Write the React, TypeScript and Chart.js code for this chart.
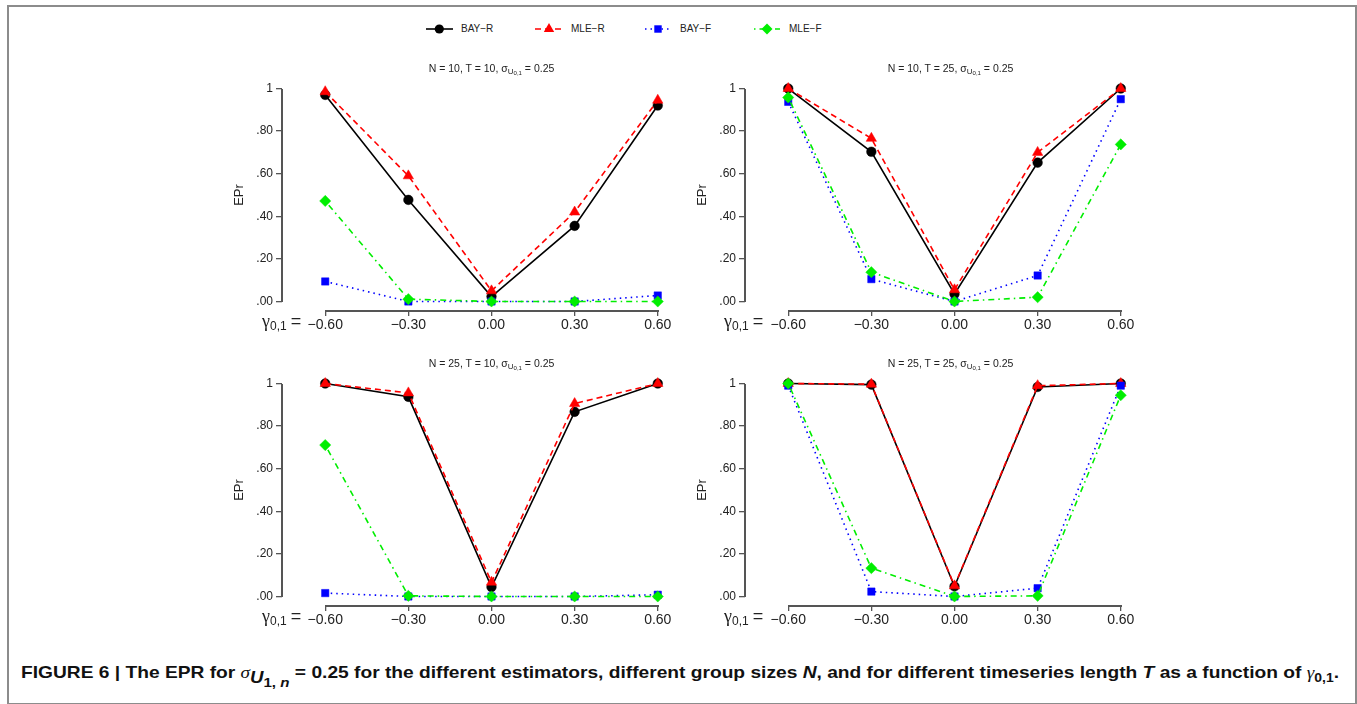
import React, { useEffect, useRef } from 'react';
import { Chart, registerables } from 'chart.js';

Chart.register(...registerables);

// ---------- data ----------
const gammaValues = [-0.6, -0.3, 0, 0.3, 0.6];
const xTickLabels = ['\u22120.60', '\u22120.30', '0.00', '0.30', '0.60'];
const yTickValues = [0, 0.2, 0.4, 0.6, 0.8, 1];
const yTickLabels = ['.00', '.20', '.40', '.60', '.80', '1'];
const seriesNames = ['BAY\u2212R', 'MLE\u2212R', 'BAY\u2212F', 'MLE\u2212F'];

// N = 10, T = 10
const bayR_N10T10 = [0.97, 0.477, 0.023, 0.355, 0.92];
const mleR_N10T10 = [0.985, 0.59, 0.05, 0.42, 0.945];
const bayF_N10T10 = [0.094, 0.0, 0.0, 0.0, 0.028];
const mleF_N10T10 = [0.472, 0.011, 0.0, 0.0, 0.0];

// N = 10, T = 25
const bayR_N10T25 = [1.0, 0.703, 0.035, 0.652, 1.0];
const mleR_N10T25 = [1.0, 0.766, 0.055, 0.7, 1.0];
const bayF_N10T25 = [0.9375, 0.105, 0.0, 0.122, 0.95];
const mleF_N10T25 = [0.958, 0.1375, 0.0, 0.02, 0.7375];

// N = 25, T = 10
const bayR_N25T10 = [1.0, 0.9375, 0.044, 0.867, 1.0];
const mleR_N25T10 = [1.0, 0.956, 0.067, 0.906, 1.0];
const bayF_N25T10 = [0.016, 0.0, 0.0, 0.0, 0.008];
const mleF_N25T10 = [0.711, 0.003, 0.0, 0.0, 0.0];

// N = 25, T = 25
const bayR_N25T25 = [1.0, 0.995, 0.047, 0.984, 1.0];
const mleR_N25T25 = [1.0, 0.997, 0.05, 0.99, 1.0];
const bayF_N25T25 = [0.99, 0.023, 0.0, 0.039, 0.99];
const mleF_N25T25 = [1.0, 0.133, 0.0, 0.003, 0.945];

const panelN = ['10', '10', '25', '25'];
const panelT = ['10', '25', '10', '25'];
const panelSigma = ['0.25', '0.25', '0.25', '0.25'];

// ---------- scale ranges (R style: xlim ±0.7, ylim 0..1, 4% extension) ----------
const X_MIN = -0.756;
const X_MAX = 0.756;
const Y_MIN = -0.04;
const Y_MAX = 1.04;

// ---------- styles ----------
const SANS = '"Liberation Sans", Arial, Helvetica, sans-serif';
const AXIS_COLOR = '#555555';
const TEXT_COLOR = '#222';

const seriesStyles = [
  { color: '#000000', dash: [] as number[], point: 'circle', radius: 4.8 },
  { color: '#ff0000', dash: [6, 4], point: 'triangle', radius: 6 },
  { color: '#0000ff', dash: [1.5, 4], point: 'rect', radius: 5.2 },
  { color: '#00ee00', dash: [1.5, 4, 6, 4], point: 'rectRot', radius: 5.6 },
];

type Area = { L: number; T: number; R: number; B: number };

const panelAreas: Area[] = [
  { L: 282, T: 80, R: 701, B: 310 },
  { L: 745, T: 80, R: 1164, B: 310 },
  { L: 282, T: 375, R: 701, B: 605 },
  { L: 745, T: 375, R: 1164, B: 605 },
];

const panelSeries = [
  [bayR_N10T10, mleR_N10T10, bayF_N10T10, mleF_N10T10],
  [bayR_N10T25, mleR_N10T25, bayF_N10T25, mleF_N10T25],
  [bayR_N25T10, mleR_N25T10, bayF_N25T10, mleF_N25T10],
  [bayR_N25T25, mleR_N25T25, bayF_N25T25, mleF_N25T25],
];

const PADL = 62;
const PADT = 20;
const PADR = 10;
const PADB = 28;

function PanelChart({ series, area }: { series: number[][]; area: Area }) {
  const ref = useRef<HTMLCanvasElement>(null);
  const yAxisRef = useRef<HTMLDivElement>(null);
  const xAxisRef = useRef<HTMLDivElement>(null);
  const w = area.R - area.L + PADL + PADR;
  const h = area.B - area.T + PADT + PADB;
  const canvasLeft = area.L - PADL;
  const canvasTop = area.T - PADT;
  useEffect(() => {
    if (!ref.current) return;
    const chart = new Chart(ref.current, {
      type: 'line',
      data: {
        datasets: series.map((s, i) => ({
          label: seriesNames[i],
          data: gammaValues.map((g, j) => ({ x: g, y: s[j] })),
          borderColor: seriesStyles[i].color,
          backgroundColor: seriesStyles[i].color,
          pointBackgroundColor: seriesStyles[i].color,
          pointBorderColor: seriesStyles[i].color,
          borderWidth: 1.6,
          borderDash: seriesStyles[i].dash,
          pointStyle: seriesStyles[i].point as any,
          pointRadius: seriesStyles[i].radius,
          pointBorderWidth: 0.5,
          tension: 0,
          fill: false,
          order: 4 - i,
          clip: false as any,
        })),
      },
      options: {
        animation: false,
        responsive: false,
        events: [],
        layout: { padding: { left: 0, top: PADT, right: PADR, bottom: 0 } },
        plugins: {
          legend: { display: false },
          tooltip: { enabled: false },
          title: { display: false },
        },
        scales: {
          x: {
            type: 'linear',
            min: X_MIN,
            max: X_MAX,
            afterBuildTicks: (s: any) => {
              s.ticks = gammaValues.map((v) => ({ value: v }));
            },
            afterFit: (s: any) => {
              s.height = PADB;
            },
            border: { display: false },
            grid: {
              display: true,
              drawOnChartArea: false,
              drawTicks: true,
              tickLength: 6,
              color: AXIS_COLOR,
              lineWidth: 1.3,
            },
            ticks: {
              autoSkip: false,
              maxRotation: 0,
              minRotation: 0,
              padding: 1,
              color: TEXT_COLOR,
              font: { family: SANS, size: 14 },
              callback: (_v: any, i: number) => xTickLabels[i],
            },
          },
          y: {
            type: 'linear',
            min: Y_MIN,
            max: Y_MAX,
            afterBuildTicks: (s: any) => {
              s.ticks = yTickValues.map((v) => ({ value: v }));
            },
            afterFit: (s: any) => {
              s.width = PADL;
            },
            border: { display: false },
            grid: {
              display: true,
              drawOnChartArea: false,
              drawTicks: true,
              tickLength: 6,
              color: AXIS_COLOR,
              lineWidth: 1.3,
            },
            ticks: {
              autoSkip: false,
              padding: 3,
              color: TEXT_COLOR,
              font: { family: SANS, size: 12 },
              callback: (_v: any, i: number) => yTickLabels[i],
            },
          },
        },
      } as any,
    });
    // R-style axis lines placed from the chart's own scales
    const ca = chart.chartArea;
    const xs: any = chart.scales.x;
    const ys: any = chart.scales.y;
    if (yAxisRef.current && ca && xs && ys) {
      const yTop = ys.getPixelForValue(yTickValues[yTickValues.length - 1]);
      const yBot = ys.getPixelForValue(yTickValues[0]);
      const st = yAxisRef.current.style;
      st.left = `${canvasLeft + Math.round(ca.left) - 1}px`;
      st.top = `${canvasTop + Math.round(yTop) - 0.5}px`;
      st.height = `${Math.round(yBot) - Math.round(yTop) + 1}px`;
      st.display = 'block';
    }
    if (xAxisRef.current && ca && xs && ys) {
      const xL = xs.getPixelForValue(gammaValues[0]);
      const xR = xs.getPixelForValue(gammaValues[gammaValues.length - 1]);
      const st = xAxisRef.current.style;
      st.left = `${canvasLeft + Math.round(xL) - 0.5}px`;
      st.top = `${canvasTop + Math.round(ca.bottom)}px`;
      st.width = `${Math.round(xR) - Math.round(xL) + 1}px`;
      st.display = 'block';
    }
    return () => chart.destroy();
  }, []);
  return (
    <>
      <canvas
        ref={ref}
        width={w}
        height={h}
        style={{ position: 'absolute', left: canvasLeft, top: canvasTop, width: w, height: h }}
      />
      <div
        ref={yAxisRef}
        style={{ position: 'absolute', width: 1.5, background: AXIS_COLOR, display: 'none' }}
      />
      <div
        ref={xAxisRef}
        style={{ position: 'absolute', height: 1.5, background: AXIS_COLOR, display: 'none' }}
      />
    </>
  );
}

function PanelLabels({ area, idx }: { area: Area; idx: number }) {
  const cx = (area.L + area.R) / 2;
  const yMid = (area.T + area.B) / 2;
  return (
    <>
      <div
        style={{
          position: 'absolute',
          left: cx - 150 + (idx % 2 === 1 ? -4 : 0),
          width: 300,
          top: area.T - 18,
          textAlign: 'center',
          font: `10.5px ${SANS}`,
          color: TEXT_COLOR,
          whiteSpace: 'nowrap',
        }}
      >
        N = {panelN[idx]}, T = {panelT[idx]}, σ
        <sub style={{ fontSize: 8, verticalAlign: -2 }}>
          U<sub style={{ fontSize: 6, verticalAlign: -1 }}>0,1</sub>
        </sub>{' '}
        = {panelSigma[idx]}
      </div>
      <div
        style={{
          position: 'absolute',
          left: area.L - 44,
          top: yMid,
          transform: 'translate(-50%, -50%) rotate(-90deg)',
          font: `13px ${SANS}`,
          color: TEXT_COLOR,
          whiteSpace: 'nowrap',
        }}
      >
        EPr
      </div>
      <div
        style={{
          position: 'absolute',
          left: area.L - 20 - (idx % 2 === 1 ? 1 : 0),
          top: area.B + 1,
          color: TEXT_COLOR,
          whiteSpace: 'nowrap',
          lineHeight: '20px',
        }}
      >
        <span style={{ font: `18px "Liberation Serif", "DejaVu Serif", serif` }}>γ</span>
        <span style={{ font: `12px ${SANS}`, position: 'relative', top: 3 }}>0,1</span>
        <span style={{ font: `18px ${SANS}`, marginLeft: 4 }}>=</span>
      </div>
    </>
  );
}

function LegendItem({
  x1,
  x2,
  mx,
  textX,
  i,
}: {
  x1: number;
  x2: number;
  mx: number;
  textX: number;
  i: number;
}) {
  const st = seriesStyles[i];
  const cy = 10;
  const local = mx - x1;
  let marker: any = null;
  if (st.point === 'circle') marker = <circle cx={local} cy={cy} r={4.6} fill={st.color} />;
  else if (st.point === 'triangle')
    marker = (
      <polygon
        points={`${local},${cy - 6} ${local - 5.2},${cy + 3} ${local + 5.2},${cy + 3}`}
        fill={st.color}
      />
    );
  else if (st.point === 'rect')
    marker = <rect x={local - 3.7} y={cy - 3.7} width={7.4} height={7.4} fill={st.color} />;
  else
    marker = (
      <polygon
        points={`${local},${cy - 5.5} ${local + 5.5},${cy} ${local},${cy + 5.5} ${local - 5.5},${cy}`}
        fill={st.color}
      />
    );
  return (
    <>
      <svg
        width={x2 - x1}
        height={20}
        style={{ position: 'absolute', left: x1, top: 19, overflow: 'visible' }}
      >
        <line
          x1={0}
          y1={cy}
          x2={x2 - x1}
          y2={cy}
          stroke={st.color}
          strokeWidth={1.6}
          strokeDasharray={st.dash.length ? st.dash.join(' ') : undefined}
        />
        {marker}
      </svg>
      <div
        style={{
          position: 'absolute',
          left: textX,
          top: 22,
          font: `10px ${SANS}`,
          color: TEXT_COLOR,
          whiteSpace: 'nowrap',
          lineHeight: '14px',
        }}
      >
        {seriesNames[i]}
      </div>
    </>
  );
}

export default function App() {
  const capRef = useRef<HTMLDivElement>(null);
  useEffect(() => {
    const el = capRef.current;
    if (!el) return;
    const w = el.scrollWidth;
    const target = 1318;
    if (w > 0) el.style.transform = `scaleX(${target / w})`;
  }, []);
  return (
    <div
      style={{
        position: 'absolute',
        left: 0,
        top: 0,
        width: 1357,
        height: 704,
        background: '#fff',
        overflow: 'hidden',
      }}
    >
      <div
        style={{
          position: 'absolute',
          left: 7,
          top: 5,
          width: 1350,
          height: 700,
          boxSizing: 'border-box',
          border: '2px solid #8c8c8c',
        }}
      />
      <LegendItem x1={426} x2={453} mx={439.3} textX={461} i={0} />
      <LegendItem x1={535} x2={563} mx={549} textX={571} i={1} />
      <LegendItem x1={645} x2={669} mx={658} textX={680} i={2} />
      <LegendItem x1={754} x2={780} mx={767} textX={789} i={3} />
      {panelAreas.map((a, k) => (
        <PanelChart key={'c' + k} series={panelSeries[k]} area={a} />
      ))}
      {panelAreas.map((a, k) => (
        <PanelLabels key={'l' + k} area={a} idx={k} />
      ))}
      <div
        ref={capRef}
        style={{
          position: 'absolute',
          left: 21,
          top: 662,
          font: `bold 16.5px ${SANS}`,
          color: '#111',
          whiteSpace: 'nowrap',
          transformOrigin: '0 0',
          lineHeight: '20px',
        }}
      >
        FIGURE 6 | The EPR for{' '}
        <span style={{ fontWeight: 'normal', fontStyle: 'italic', fontFamily: '"Liberation Serif", serif' }}>σ</span>
        <sub style={{ fontSize: 16, verticalAlign: -5 }}>
          <i>U</i>
          <sub style={{ fontSize: 13, verticalAlign: -4 }}>
            1, <i>n</i>
          </sub>
        </sub>{' '}
        = 0.25 for the different estimators, different group sizes <i>N</i>, and for different timeseries
        length <i>T</i> as a function of{' '}
        <span style={{ fontWeight: 'normal', fontStyle: 'italic', fontFamily: '"Liberation Serif", serif' }}>γ</span>
        <sub style={{ fontSize: 12, verticalAlign: -4 }}>0,1</sub>.
      </div>
    </div>
  );
}
